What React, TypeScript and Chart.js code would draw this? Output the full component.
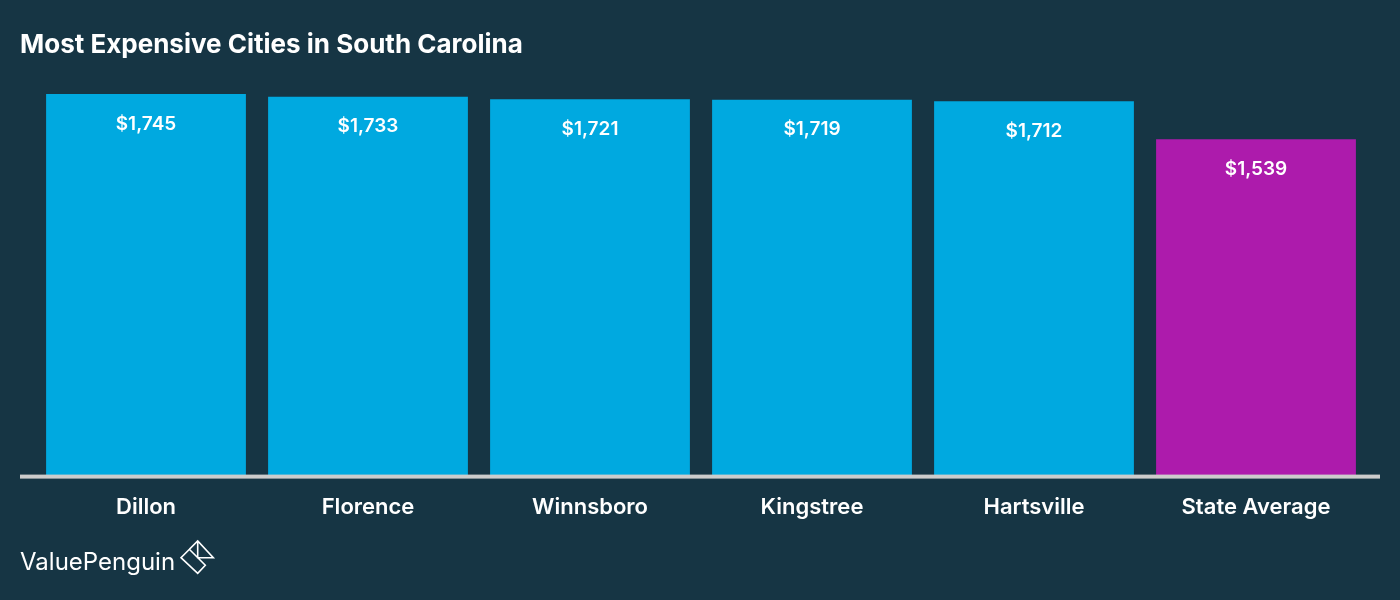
import React, { useEffect, useRef } from "react";
import { Chart, registerables } from "chart.js";

Chart.register(...registerables);

const categories = ["Dillon", "Florence", "Winnsboro", "Kingstree", "Hartsville", "State Average"];
const values = [1745, 1733, 1721, 1719, 1712, 1539];
const barColors = ["#00A9E0", "#00A9E0", "#00A9E0", "#00A9E0", "#00A9E0", "#AD1BAC"];
const titleText = "Most Expensive Cities in South Carolina";
const brandText = "ValuePenguin";

const BG = "#163544";
const FONT = "Inter, 'Noto Sans', sans-serif";

const decorPlugin = {
  id: "decor",
  beforeDraw(chart: any) {
    const { ctx, width, height } = chart;
    ctx.save();
    ctx.fillStyle = BG;
    ctx.fillRect(0, 0, width, height);
    ctx.restore();
  },
  afterDatasetsDraw(chart: any) {
    const { ctx, chartArea } = chart;
    ctx.save();
    // value labels
    const meta = chart.getDatasetMeta(0);
    ctx.fillStyle = "#ffffff";
    ctx.font = `600 19px ${FONT}`;
    ctx.textAlign = "center";
    ctx.textBaseline = "middle";
    meta.data.forEach((bar: any, i: number) => {
      ctx.fillText("$" + values[i].toLocaleString("en-US"), bar.x, bar.y + 30);
    });
    // axis line
    ctx.fillStyle = "#CCCCCC";
    ctx.fillRect(20, chartArea.bottom - 2, 1360, 4);
    // title
    ctx.fillStyle = "#ffffff";
    ctx.textAlign = "left";
    ctx.font = `700 26px ${FONT}`;
    ctx.fillText(titleText, 20, 45);
    // brand
    ctx.font = `400 24px ${FONT}`;
    ctx.fillText(brandText, 20, 563);
    // logo icon
    ctx.strokeStyle = "#ffffff";
    ctx.lineWidth = 1.6;
    ctx.lineJoin = "miter";
    ctx.beginPath();
    ctx.moveTo(189.3, 549.3);
    ctx.lineTo(197.7, 541);
    ctx.lineTo(213.3, 557.7);
    ctx.lineTo(197.7, 557.7);
    ctx.lineTo(197.7, 541);
    ctx.moveTo(197.7, 541);
    ctx.lineTo(181, 557.7);
    ctx.lineTo(197.7, 573.3);
    ctx.lineTo(205.3, 565.3);
    ctx.lineTo(189.3, 549.3);
    ctx.stroke();
    ctx.restore();
  },
};

export default function App() {
  const ref = useRef<HTMLCanvasElement>(null);
  useEffect(() => {
    document.body.style.margin = "0";
    const chart = new Chart(ref.current!, {
      type: "bar",
      data: {
        labels: categories,
        datasets: [
          {
            data: values,
            backgroundColor: barColors,
            borderWidth: 0,
            barPercentage: 0.9,
            categoryPercentage: 1,
          },
        ],
      },
      options: {
        animation: false,
        responsive: false,
        layout: { padding: { left: 35, right: 33, top: 82, bottom: 61 } },
        plugins: { legend: { display: false }, tooltip: { enabled: false }, title: { display: false } },
        scales: {
          x: {
            grid: { display: false, drawTicks: false },
            border: { display: false },
            ticks: { color: "#ffffff", font: { family: FONT, size: 22, weight: 600 }, padding: 18 },
          },
          y: {
            display: false,
            min: 0,
            max: 1800,
          },
        },
      },
      plugins: [decorPlugin],
    });
    return () => chart.destroy();
  }, []);
  return (
    <div style={{ width: 1400, height: 600, background: BG }}>
      <canvas ref={ref} width={1400} height={600} style={{ display: "block" }} />
    </div>
  );
}
